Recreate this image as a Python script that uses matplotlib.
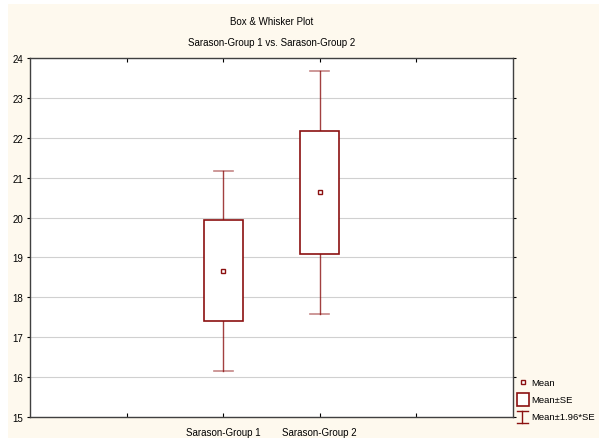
import matplotlib
matplotlib.use("Agg")
import matplotlib.pyplot as plt
from matplotlib.patches import Rectangle
from matplotlib.lines import Line2D

# data
groups = ["Sarason-Group 1", "Sarason-Group 2"]
means = [18.66, 20.63]
se_low = [17.40, 19.08]
se_high = [19.94, 22.18]
ci_low = [16.16, 17.58]
ci_high = [21.16, 23.68]

RED = "#8b1010"
CREAM = "#fef9ee"
FONT = ["Liberation Sans Narrow", "Liberation Sans", "DejaVu Sans"]
plt.rcParams["font.family"] = FONT

W, H = 599, 439
fig = plt.figure(figsize=(W / 100, H / 100), dpi=100)
fig.patch.set_facecolor("white")
fig.add_artist(Rectangle((8 / W, 0), 1 - 8 / W, 1 - 5 / H, transform=fig.transFigure,
                         facecolor=CREAM, edgecolor="none", zorder=-10))

# axes box in pixels: x 30..513, y 59..418
ax = fig.add_axes([30 / W, 1 - 418 / H, (513 - 30) / W, (418 - 59) / H])
ax.set_facecolor("white")

xpos = [2, 3]
ax.set_xlim(0, 5)
ax.set_ylim(15, 24)
ax.set_yticks(range(15, 25))
ax.set_xticks([1, 2, 3, 4])
ax.set_xticklabels(["", groups[0], groups[1], ""])
ax.yaxis.grid(True, color="#d0d0d0", linewidth=0.8)
ax.set_axisbelow(True)
ax.tick_params(axis="x", direction="in", length=3, labelsize=7, pad=7, top=True)
ax.tick_params(axis="y", direction="out", length=2, labelsize=7, pad=3, right=True)
for s in ax.spines.values():
    s.set_color("#404040")
    s.set_linewidth(1.0)

bw = 0.4
cw = 0.2
for i, x in enumerate(xpos):
    # whiskers
    ax.plot([x, x], [ci_low[i], se_low[i]], color=RED, lw=1, alpha=0.8)
    ax.plot([x, x], [se_high[i], ci_high[i]], color=RED, lw=1, alpha=0.8)
    ax.plot([x - cw / 2, x + cw / 2], [ci_low[i]] * 2, color=RED, lw=1.2, alpha=0.5)
    ax.plot([x - cw / 2, x + cw / 2], [ci_high[i]] * 2, color=RED, lw=1.2, alpha=0.5)
    # box
    ax.add_patch(Rectangle((x - bw / 2, se_low[i]), bw, se_high[i] - se_low[i],
                           facecolor="white", edgecolor=RED, lw=1.2, zorder=3))
    ax.plot([x], [means[i]], marker="s", ms=3.5, mfc="white", mec=RED, mew=1, zorder=4)

fig.text(0.5 * (30 + 513) / W, 1 - 22 / H, "Box & Whisker Plot", ha="center", va="center", fontsize=7)
fig.text(0.5 * (30 + 513) / W, 1 - 43 / H, "Sarason-Group 1 vs. Sarason-Group 2",
         ha="center", va="center", fontsize=7)


def px(x, y):
    return x / W, 1 - y / H


# legend drawn by hand
fig.add_artist(Line2D(*zip(px(523, 383)), marker="s", ms=3.5, mfc="white", mec=RED, mew=1,
                      transform=fig.transFigure))
fig.add_artist(Rectangle(px(517, 407), 12 / W, 13 / H, transform=fig.transFigure,
                         facecolor="white", edgecolor=RED, lw=1.2))
fig.add_artist(Line2D([px(522, 412)[0]] * 2, [px(522, 412)[1], px(522, 424)[1]], color=RED, lw=1,
                      transform=fig.transFigure))
for yy in (412, 424):
    fig.add_artist(Line2D([px(517, yy)[0], px(528, yy)[0]], [px(517, yy)[1]] * 2, color=RED, lw=1,
                          transform=fig.transFigure))
for yy, t in [(384, "Mean"), (401, "Mean±SE"), (418, "Mean±1.96*SE")]:
    fig.text(*px(531, yy), t, ha="left", va="center", fontsize=6.8)

plt.savefig("out.png", dpi=100, facecolor=fig.get_facecolor())
